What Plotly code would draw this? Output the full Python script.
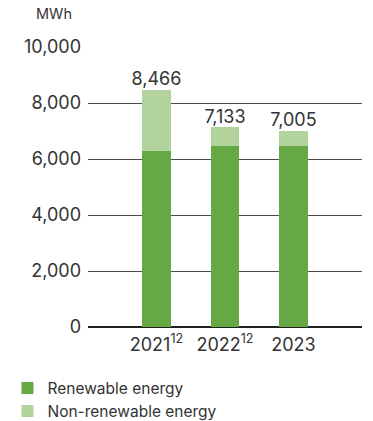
import plotly.graph_objects as go

# Energy consumption, MWh
years = ["2021<sup>12</sup>", "2022<sup>12</sup>", "2023"]
renewable = [6300, 6480, 6470]
totals = [8466, 7133, 7005]
non_renewable = [t - r for t, r in zip(totals, renewable)]
total_labels = ["8,466", "7,133", "7,005"]
y_ticks = [0, 2000, 4000, 6000, 8000, 10000]
y_tick_labels = ["0", "2,000", "4,000", "6,000", "8,000", "10,000"]

FONT = "Inter"
TEXT = "#333333"

fig = go.Figure()
fig.add_trace(go.Bar(
    x=years, y=renewable, name="Renewable energy",
    marker=dict(color="#65a844", line=dict(width=0)), width=0.41,
))
fig.add_trace(go.Bar(
    x=years, y=non_renewable, name="Non-renewable energy",
    marker=dict(color="#b2d39c", line=dict(width=0)), width=0.41,
))
fig.add_trace(go.Scatter(
    x=years, y=totals, mode="text", text=total_labels,
    textposition="top center", showlegend=False, hoverinfo="skip",
    textfont=dict(family=FONT, size=18, color=TEXT),
))

fig.update_layout(
    width=373, height=421,
    margin=dict(l=88, r=11, t=47, b=94, autoexpand=False),
    barmode="stack",
    plot_bgcolor="white", paper_bgcolor="white",
    font=dict(family=FONT, color=TEXT),
    xaxis=dict(
        type="category",
        range=[-1, 3.0], showgrid=False, zeroline=False, showline=False,
        ticks="", tickangle=0, automargin=False,
        tickfont=dict(family=FONT, size=18, color=TEXT),
        ticklabelstandoff=5,
    ),
    yaxis=dict(
        range=[0, 10000], tickvals=y_ticks, ticktext=y_tick_labels,
        showgrid=True, gridcolor="#4a4a4a", gridwidth=1,
        zeroline=True, zerolinecolor="#222222", zerolinewidth=1.5,
        showline=False, ticks="", automargin=False,
        tickfont=dict(family=FONT, size=18, color=TEXT),
        ticklabelstandoff=6,
    ),
    legend=dict(
        xref="container", yref="container", x=0.02, y=0.118,
        xanchor="left", yanchor="top", traceorder="normal",
        font=dict(family=FONT, size=15.5, color=TEXT),
        bgcolor="rgba(0,0,0,0)", tracegroupgap=0,
    ),
    annotations=[dict(
        text="MWh", xref="paper", yref="paper", x=-0.197, y=1.118,
        xanchor="left", yanchor="middle", showarrow=False,
        font=dict(family=FONT, size=14.5, color=TEXT),
    )],
    showlegend=True,
)

fig.write_html("out.html")
